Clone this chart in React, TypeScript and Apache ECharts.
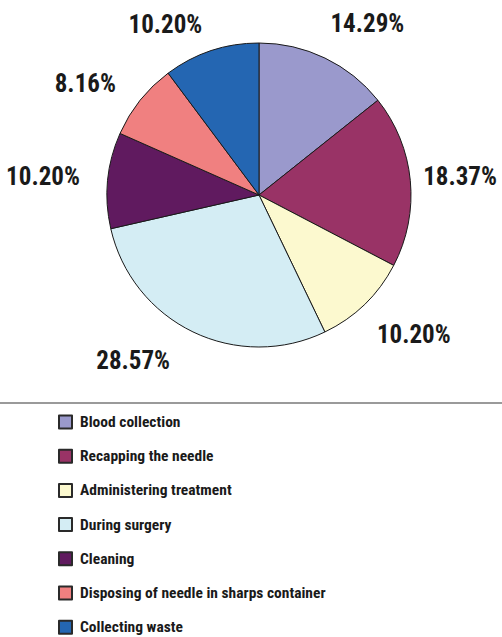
import React, { useEffect, useRef } from "react";
import * as echarts from "echarts";

const categories = [
  "Blood collection",
  "Recapping the needle",
  "Administering treatment",
  "During surgery",
  "Cleaning",
  "Disposing of needle in sharps container",
  "Collecting waste",
];
const percentages = [14.29, 18.37, 10.2, 28.57, 10.2, 8.16, 10.2];
const sliceColors = ["#9a99cc", "#993366", "#fcf9cf", "#d4edf4", "#601a5f", "#f08080", "#2466b2"];
// per-slice label placement tweaks (label line length, distance to line)
const labelLengths = [38, 38, 42, 32, 38, 26, 28];
const labelDistances = [-11, -25, -17, 9, -10, 4, 0];

const FONT = "'Liberation Sans Narrow', 'Arial Narrow', 'Roboto Condensed', sans-serif";

export default function App() {
  const ref = useRef<HTMLDivElement>(null);
  useEffect(() => {
    if (!ref.current) return;
    const chart = echarts.init(ref.current, undefined, { renderer: "svg" });
    chart.setOption({
      animation: false,
      backgroundColor: "#ffffff",
      legend: {
        orient: "vertical",
        left: 58,
        top: 414,
        height: 300,
        padding: 0,
        itemWidth: 13,
        itemHeight: 13,
        itemGap: 18.2,
        icon: "rect",
        itemStyle: { borderColor: "#2a2a2a", borderWidth: 2 },
        textStyle: {
          fontFamily: FONT,
          fontWeight: "bold",
          fontSize: 15.5,
          color: "#1a1a1a",
          lineHeight: 13,
          padding: [0, 0, 0, 3],
        },
        data: categories,
      },
      graphic: [
        {
          type: "line",
          shape: { x1: 0, y1: 403, x2: 502, y2: 403 },
          style: { stroke: "#9a9a9a", lineWidth: 2 },
        },
      ],
      series: [
        {
          type: "pie",
          center: [259, 195],
          radius: [0, 152],
          startAngle: 90,
          clockwise: true,
          avoidLabelOverlap: false,
          itemStyle: { borderColor: "#1a1a1a", borderWidth: 1 },
          label: {
            show: true,
            position: "outside",
            alignTo: "none",
            bleedMargin: 0,
            edgeDistance: 0,
            overflow: "none",
            fontFamily: FONT,
            fontWeight: "bold",
            fontSize: 25,
            color: "#1a1a1a",
            formatter: (p: any) => p.value.toFixed(2) + "%",
          },
          labelLine: { show: false, length2: 0 },
          emphasis: { disabled: true },
          data: categories.map((name, i) => ({
            name,
            value: percentages[i],
            itemStyle: { color: sliceColors[i] },
            label: { distanceToLabelLine: labelDistances[i] },
            labelLine: { show: false, length: labelLengths[i], length2: 0 },
          })),
        },
      ],
    });
    return () => chart.dispose();
  }, []);
  return (
    <div
      ref={ref}
      style={{ position: "fixed", left: 0, top: 0, width: 502, height: 637 }}
    />
  );
}
